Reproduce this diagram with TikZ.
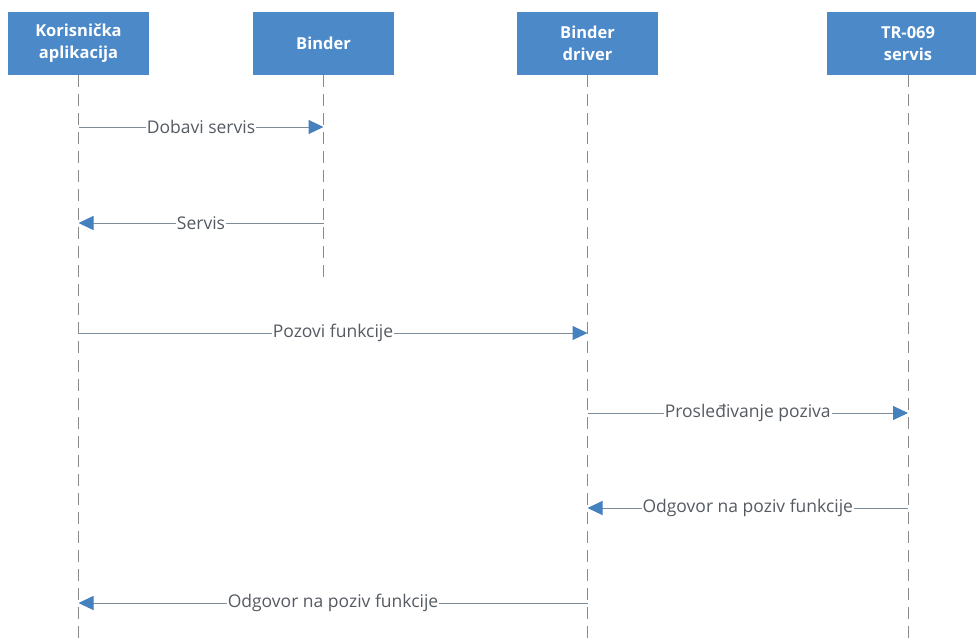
\documentclass[tikz,border=0pt]{standalone}
\usepackage{fontspec}
\setmainfont{Open Sans}
\usetikzlibrary{arrows.meta}
\definecolor{boxblue}{HTML}{4B89C8}
\definecolor{arrowblue}{HTML}{4580BF}
\definecolor{linegray}{HTML}{7D8C99}
\definecolor{lifegray}{HTML}{8A8A8A}
\definecolor{labelgray}{HTML}{555B63}
\tikzset{
  actor/.style={draw=none, fill=boxblue, text=white, minimum width=141pt, minimum height=63pt,
    font=\fontsize{16.5}{22}\selectfont\bfseries, align=center, inner sep=0pt},
  lifeline/.style={draw=lifegray, line width=1pt, dash pattern=on 12pt off 7pt},
  msg/.style={draw=linegray, line width=1pt, -{Triangle[length=15pt,width=14pt,color=arrowblue]}},
  lbl/.style={fill=white, text=labelgray, inner sep=1pt, font=\fontsize{17.5}{20}\selectfont}
}
\begin{document}
\begin{tikzpicture}[x=1pt,y=-1pt]
\useasboundingbox (0,0) rectangle (976,643);
\clip (0,0) rectangle (976,643);
\fill[white] (0,0) rectangle (976,643);
% actors
\node[actor] (a) at (78.5,43.5) {Korisnička\\aplikacija};
\node[actor] (b) at (323.5,43.5) {Binder};
\node[actor] (c) at (587.5,43.5) {Binder\\driver};
\node[actor, minimum width=162pt] (d) at (908,43.5) {TR-069\\servis};
% lifeline ends
\coordinate (aend) at (78.5,643);
\coordinate (bend) at (323.5,284);
\coordinate (cend) at (587.5,643);
\coordinate (dend) at (908,643);
\draw[lifeline] (a.south) -- (aend);
\draw[lifeline] (b.south) -- (bend);
\draw[lifeline] (c.south) -- (cend);
\draw[lifeline] (d.south) -- (dend);
% message points
\coordinate (a1) at (78.5,127);   \coordinate (b1) at (323.5,127);
\coordinate (a2) at (78.5,223);   \coordinate (b2) at (323.5,223);
\coordinate (a3) at (78.5,333);   \coordinate (c3) at (587.5,333);
\coordinate (c4) at (587.5,413);  \coordinate (d4) at (908,413);
\coordinate (c5) at (587.5,508);  \coordinate (d5) at (908,508);
\coordinate (a6) at (78.5,603);   \coordinate (c6) at (587.5,603);
% messages
\draw[msg] (a1) -- node[lbl] {Dobavi servis} (b1);
\draw[msg] (b2) -- node[lbl] {Servis} (a2);
\draw[msg] (a3) -- node[lbl] {Pozovi funkcije} (c3);
\draw[msg] (c4) -- node[lbl] {Prosleđivanje poziva} (d4);
\draw[msg] (d5) -- node[lbl] {Odgovor na poziv funkcije} (c5);
\draw[msg] (c6) -- node[lbl] {Odgovor na poziv funkcije} (a6);
\end{tikzpicture}
\end{document}
